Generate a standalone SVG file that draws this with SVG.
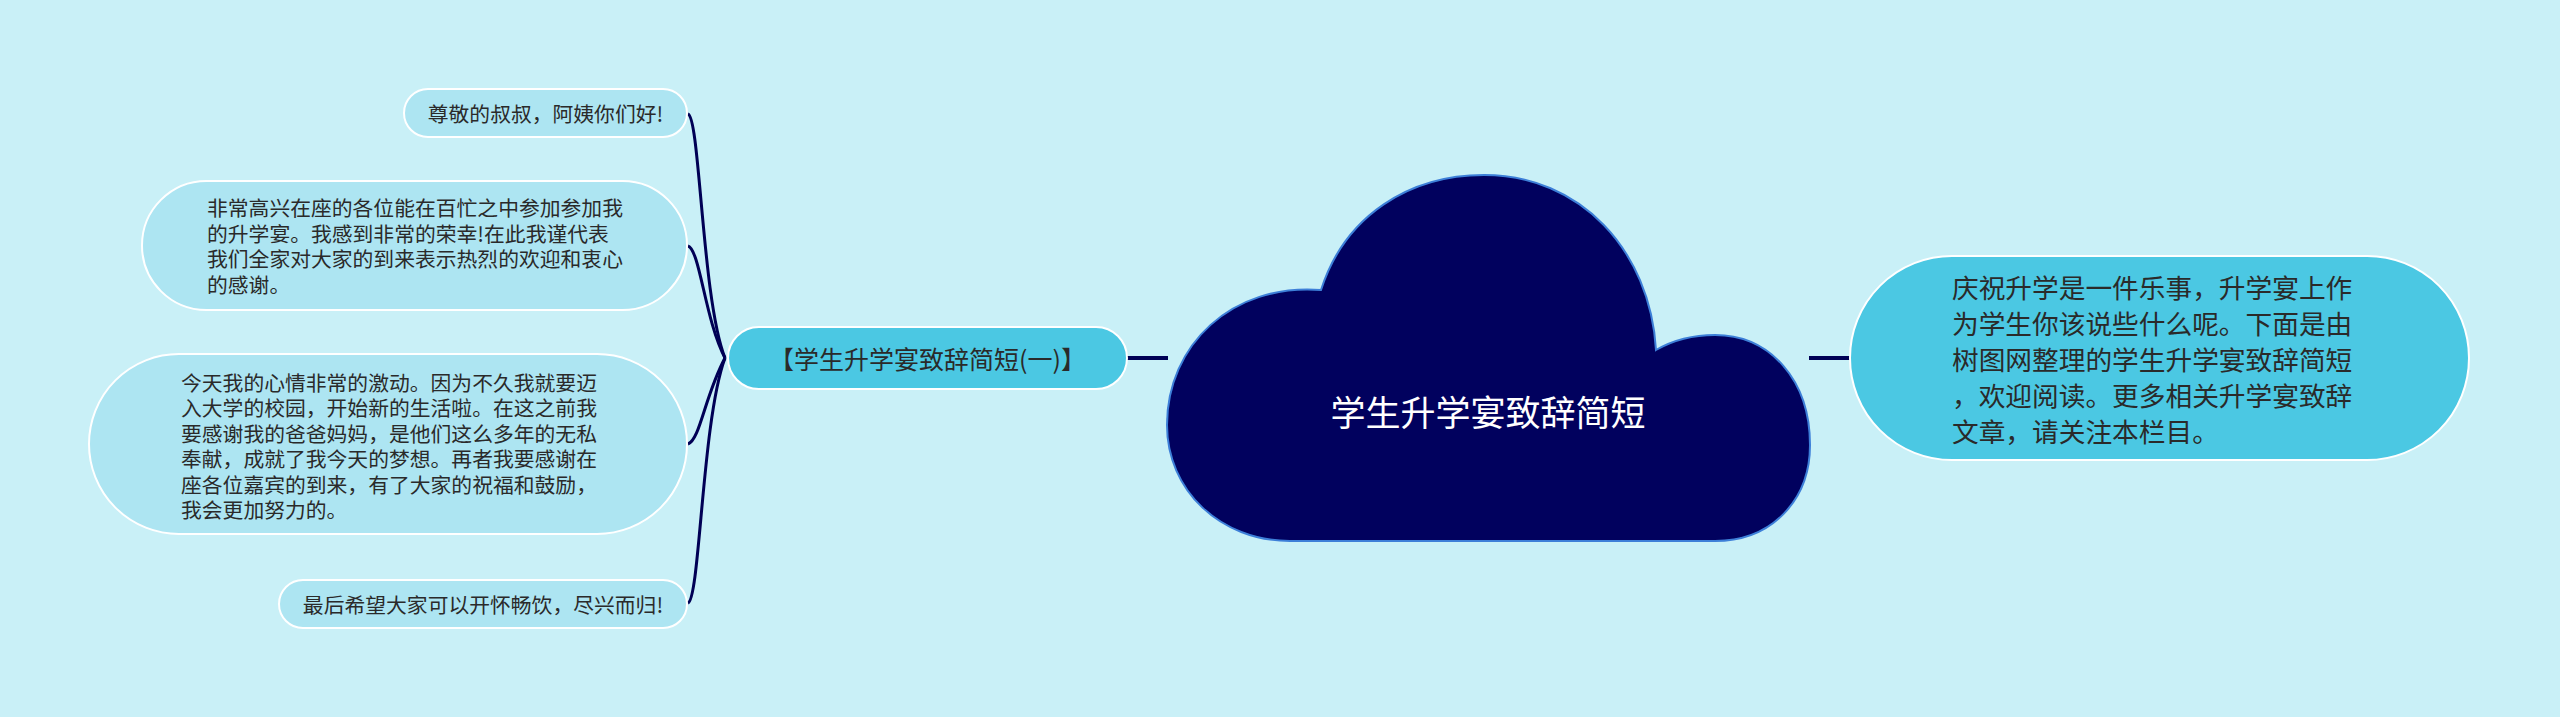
<svg xmlns="http://www.w3.org/2000/svg" width="2560" height="717" viewBox="0 0 2560 717">
<style>
.leaf{fill:#ade5f2;stroke:#ffffff;stroke-width:2}
.main{fill:#4bc8e3;stroke:#ffffff;stroke-width:2}
.t{font-family:"Noto Sans CJK SC","Noto Sans",sans-serif;fill:#2a2a2a;dominant-baseline:central}
.lt{font-size:20.8px}
.conn{fill:none;stroke:#000055;stroke-width:3}
.bar{stroke:#000055;stroke-width:4}
</style>
<rect x="0" y="0" width="2560" height="717" fill="#c9f0f7"/>
<g id="connectors">
<path class="conn" d="M 688 114 C 700 118, 702 300, 725 358"/>
<path class="conn" d="M 688 246 C 700 250, 705 320, 725 358"/>
<path class="conn" d="M 688 444 C 700 440, 705 395, 725 358"/>
<path class="conn" d="M 688 603 C 700 598, 702 420, 725 358"/>
<line class="bar" x1="1127" y1="358" x2="1168" y2="358"/>
<line class="bar" x1="1809" y1="358" x2="1850" y2="358"/>
</g>
<g id="root">
<path d="M 1290 541 C 1220 541 1167 490 1167 425 C 1167 345 1232 283 1321 290 C 1345 215 1410 175 1484 175 C 1580 175 1650 250 1656 350 C 1675 339 1695 335 1715 335 C 1770 335 1810 380 1810 445 C 1810 500 1772 541 1715 541 L 1290 541 Z" fill="#01015e" stroke="#3d7fd8" stroke-width="2"/>
<text class="t" x="1488" y="410" text-anchor="middle" style="font-size:35px;fill:#ffffff">学生升学宴致辞简短</text>
</g>
<g id="branch">
<rect class="main" x="728" y="327" width="399" height="62" rx="31"/>
<text class="t" x="927.5" y="358" text-anchor="middle" style="font-size:25px">【学生升学宴致辞简短(一)】</text>
</g>
<g id="leaf1">
<rect class="leaf" x="404" y="89" width="283" height="48" rx="24"/>
<text class="t lt" x="545.5" y="113" text-anchor="middle">尊敬的叔叔，阿姨你们好!</text>
</g>
<g id="leaf2">
<rect class="leaf" x="142" y="181" width="545" height="129" rx="64.5"/>
<text class="t lt" x="207" y="207.25">非常高兴在座的各位能在百忙之中参加参加我</text>
<text class="t lt" x="207" y="232.75">的升学宴。我感到非常的荣幸!在此我谨代表</text>
<text class="t lt" x="207" y="258.25">我们全家对大家的到来表示热烈的欢迎和衷心</text>
<text class="t lt" x="207" y="283.75">的感谢。</text>
</g>
<g id="leaf3">
<rect class="leaf" x="89" y="354" width="598" height="180" rx="90"/>
<text class="t lt" x="181" y="381.5">今天我的心情非常的激动。因为不久我就要迈</text>
<text class="t lt" x="181" y="407">入大学的校园，开始新的生活啦。在这之前我</text>
<text class="t lt" x="181" y="432.5">要感谢我的爸爸妈妈，是他们这么多年的无私</text>
<text class="t lt" x="181" y="458">奉献，成就了我今天的梦想。再者我要感谢在</text>
<text class="t lt" x="181" y="483.5">座各位嘉宾的到来，有了大家的祝福和鼓励，</text>
<text class="t lt" x="181" y="509">我会更加努力的。</text>
</g>
<g id="leaf4">
<rect class="leaf" x="279" y="580" width="408" height="48" rx="24"/>
<text class="t lt" x="483" y="604" text-anchor="middle">最后希望大家可以开怀畅饮，尽兴而归!</text>
</g>
<g id="desc">
<rect class="main" x="1850" y="256" width="619" height="204" rx="102"/>
<text class="t" x="1952" y="286" style="font-size:26.7px">庆祝升学是一件乐事，升学宴上作</text>
<text class="t" x="1952" y="322" style="font-size:26.7px">为学生你该说些什么呢。下面是由</text>
<text class="t" x="1952" y="358" style="font-size:26.7px">树图网整理的学生升学宴致辞简短</text>
<text class="t" x="1952" y="394" style="font-size:26.7px">，欢迎阅读。更多相关升学宴致辞</text>
<text class="t" x="1952" y="430" style="font-size:26.7px">文章，请关注本栏目。</text>
</g>
</svg>
